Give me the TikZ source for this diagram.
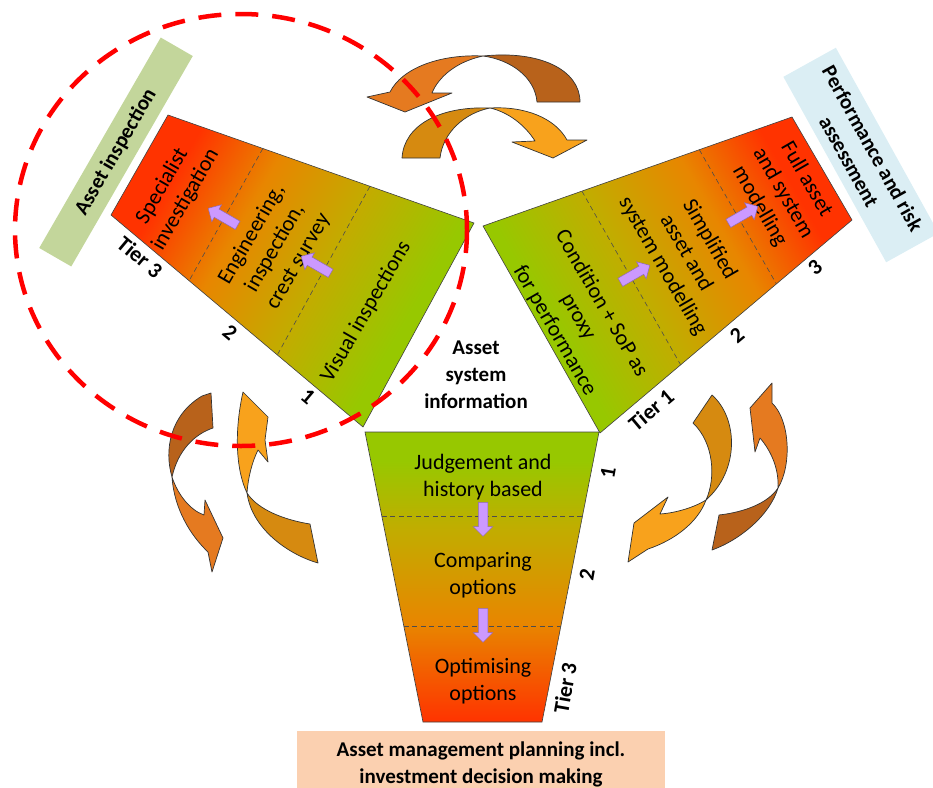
\documentclass[tikz,border=0pt]{standalone}
\usepackage{fontspec}
\setmainfont{Carlito}
\usepackage{tikz}
\usetikzlibrary{positioning,calc,shapes.arrows}

\definecolor{tierred}{HTML}{FF3300}
\definecolor{tierorange}{HTML}{E88600}
\definecolor{tierolive}{HTML}{C2AC00}
\definecolor{tiergreen}{HTML}{97C800}
\definecolor{lilac}{HTML}{CC99FF}
\definecolor{lilacedge}{HTML}{8E6AB4}
\definecolor{inspectgreen}{HTML}{C3D69B}
\definecolor{riskblue}{HTML}{DBEEF4}
\definecolor{planpeach}{HTML}{FBD0B0}
\definecolor{rust}{HTML}{B8621B}
\definecolor{pumpkin}{HTML}{E57A20}
\definecolor{amber}{HTML}{D68A10}
\definecolor{tangerine}{HTML}{F8A21C}

% red at the top, green at the bottom; stops pulled in for the slanted wedges
\pgfdeclareverticalshading{tierslant}{100bp}{color(0bp)=(tiergreen); color(32bp)=(tiergreen);
  color(46bp)=(tierolive); color(60bp)=(tierorange); color(72bp)=(tierred); color(100bp)=(tierred)}
\pgfdeclareverticalshading{tierstraight}{100bp}{color(0bp)=(tierred); color(25bp)=(tierred);
  color(42bp)=(tierorange); color(58bp)=(tierolive); color(70bp)=(tiergreen); color(100bp)=(tiergreen)}

% one tier wedge: #1 name, #2 shading, #3 shading angle,
% #4 #5 outer corners (tier 3), #6 #7 inner corners (tier 1)
\newcommand{\tierwedge}[7]{
  \coordinate (#1-oa) at #4;
  \coordinate (#1-ob) at #5;
  \coordinate (#1-ib) at #6;
  \coordinate (#1-ia) at #7;
  \shade[shading=#2, shading angle=#3]
    (#1-oa) -- (#1-ob) -- (#1-ib) -- (#1-ia) -- cycle;
  \draw[wedgeline] (#1-oa) -- (#1-ob) -- (#1-ib) -- (#1-ia) -- cycle;
}

\begin{document}
\begin{tikzpicture}[x=1pt, y=-1pt,
  every node/.style={font=\fontsize{22}{27}\selectfont},
  wedgeline/.style={draw=black!75, line width=0.6pt},
  divider/.style={draw=black!70, line width=0.6pt, dash pattern=on 5pt off 3.5pt},
  bandtext/.style={align=center, inner sep=0pt},
  tierlabel/.style={font=\fontsize{22}{27}\selectfont\bfseries, inner sep=0pt},
  boxtitle/.style={font=\fontsize{21}{27}\selectfont\bfseries, align=center},
  lilacarrow/.style={single arrow, draw=lilacedge, fill=lilac, line width=0.5pt,
    minimum height=34pt, inner xsep=0pt, inner ysep=4.5pt, single arrow head extend=5pt},
  swirl/.style={draw=black!80, line width=0.7pt, line join=round},
  ringdash/.style={draw=red, line width=4.5pt, dash pattern=on 23pt off 14pt}]
\useasboundingbox (0,0) rectangle (933,787);

% the three tiered wedges round the centre
\tierwedge{L}{tierslant}{60}{(168,115)}{(111,215)}{(363,427)}{(474,223)}
\tierwedge{R}{tierslant}{-60}{(792,117)}{(852,220)}{(600,433)}{(483,226)}
\tierwedge{B}{tierstraight}{0}{(423,722)}{(542,722)}{(599,432)}{(365,432)}

%tier borders:
\foreach \w/\f in {L/.31, L/.66, R/.30, R/.68, B/.33, B/.71}
  \draw[divider] ($(\w-oa)!\f!(\w-ia)$) -- ($(\w-ob)!\f!(\w-ib)$);

% texts in the wedges
\node[bandtext, rotate=60] (specialist) at (174,193) {Specialist\\investigation};
\node[bandtext, rotate=60] (engineering) at (275,248) {Engineering,\\inspection,\\crest survey};
\node[bandtext, rotate=60] (visual) at (366,312) {Visual inspections};
\node[bandtext, rotate=-60] (condition) at (578,317) {Condition + SoP as\\proxy\\for performance};
\node[bandtext, rotate=-60] (simplified) at (686,253) {Simplified\\asset and\\system modelling};
\node[bandtext, rotate=-60] (fullmodel) at (783,193) {Full asset\\and system\\modelling};
\node[bandtext] (judgement) at (483,477) {Judgement and\\history based};
\node[bandtext] (comparing) at (483,575) {Comparing\\options};
\node[bandtext] (optimising) at (483,681) {Optimising\\options};
\node[boxtitle] (info) at (476,375) {Asset\\system\\information};

% small arrows from tier to tier
\foreach \n/\x/\y/\a in {pa1/225/218/150, pa2/318/266/150, pa3/633/275/30,
                         pa4/741/216/30, pa5/483/517/-90, pa6/483/623/-90}
  \node[lilacarrow, rotate=\a] (\n) at (\x,\y) {};

% tier numbers
\foreach \n/\x/\y/\a/\t in {lt3/140/257/-40/Tier 3, lt2/230/333/-40/2, lt1/308/397/-40/1,
                            rt3/815/267/40/3, rt2/737/335/40/2, rt1/651/410/40/Tier 1,
                            bt1/608/473/80/1, bt2/587/575/80/2, bt3/565/688/80/Tier 3}
  \node[tierlabel, rotate=\a] (\n) at (\x,\y) {\t};

% headings
\node[boxtitle, fill=inspectgreen, minimum width=243pt, minimum height=37pt, rotate=60]
  (inspect) at (116,152) {Asset inspection};
\node[boxtitle, fill=riskblue, minimum width=212pt, minimum height=60pt, rotate=-61]
  (risk) at (861,155) {Performance and risk\\assessment};
\node[boxtitle, fill=planpeach, minimum width=368pt, minimum height=66pt]
  (plan) at (481,764) {Asset management planning incl.\\investment decision making};

% curved arrows, top pair
\filldraw[swirl, fill=rust] (483,56) .. controls (540,50) and (580,70) .. (580,102)
  -- (537,102) .. controls (535,78) and (512,60) .. (483,56) -- cycle;
\filldraw[swirl, fill=pumpkin] (483,56) .. controls (440,54) and (402,68) .. (390,92)
  -- (367,97) -- (405,112) -- (452,93) -- (432,93) .. controls (438,78) and (455,62) .. (483,56) -- cycle;
\filldraw[swirl, fill=amber] (490,108) .. controls (440,106) and (404,125) .. (402,158)
  -- (440,158) .. controls (443,132) and (465,113) .. (490,108) -- cycle;
\filldraw[swirl, fill=tangerine] (490,108) .. controls (525,106) and (555,118) .. (567,140)
  -- (587,140) -- (553,158) -- (512,142) -- (535,141) .. controls (525,125) and (508,112) .. (490,108) -- cycle;

% left pair
\filldraw[swirl, fill=rust] (172,477) .. controls (164,450) and (170,415) .. (202,396)
  -- (211,393) -- (213,428) .. controls (195,434) and (178,450) .. (172,477) -- cycle;
\filldraw[swirl, fill=pumpkin] (172,477) .. controls (178,495) and (190,510) .. (204,515)
  -- (205,500) -- (223,538) -- (212,572) -- (208,552) .. controls (190,535) and (174,508) .. (172,477) -- cycle;
\filldraw[swirl, fill=tangerine] (247,493) .. controls (236,470) and (234,432) .. (243,392)
  -- (268,417) -- (265,440) -- (268,462) -- (258,450) .. controls (252,462) and (248,478) .. (247,493) -- cycle;
\filldraw[swirl, fill=amber] (247,493) .. controls (252,530) and (290,555) .. (318,563)
  -- (310,524) .. controls (285,520) and (258,510) .. (247,493) -- cycle;

% right pair
\filldraw[swirl, fill=amber] (706,500) .. controls (716,478) and (714,443) .. (693,423)
  -- (712,395) .. controls (738,418) and (740,470) .. (706,500) -- cycle;
\filldraw[swirl, fill=tangerine] (706,500) .. controls (695,507) and (676,513) .. (660,514)
  -- (668,497) -- (634,523) -- (628,562) -- (648,549) .. controls (675,540) and (698,522) .. (706,500) -- cycle;
\filldraw[swirl, fill=rust] (778,488) .. controls (770,515) and (740,540) .. (712,550)
  -- (719,515) .. controls (745,512) and (768,503) .. (778,488) -- cycle;
\filldraw[swirl, fill=pumpkin] (778,488) .. controls (792,465) and (790,420) .. (772,403)
  -- (772,383) -- (750,408) -- (755,452) -- (760,438) .. controls (772,452) and (779,470) .. (778,488) -- cycle;

% dashed ring round the inspection wedge
\draw[ringdash] (241,230) ellipse [x radius=226, y radius=216];
\end{tikzpicture}
\end{document}
